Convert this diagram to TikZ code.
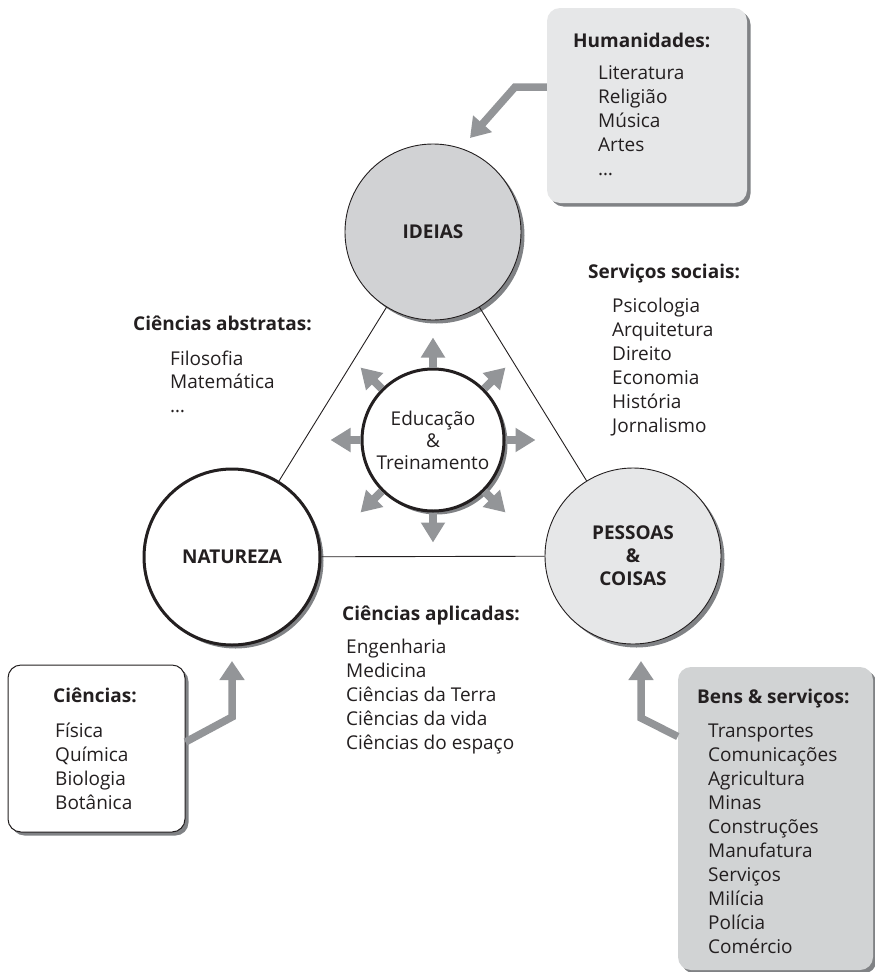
\documentclass[tikz,border=0pt]{standalone}
\usepackage{fontspec}
\setmainfont{Open Sans}
\usetikzlibrary{shadows,arrows.meta}

\definecolor{txtblack}{HTML}{231F20}
\definecolor{ideasfill}{HTML}{D1D2D4}
\definecolor{palefill}{HTML}{E6E7E8}
\definecolor{bensfill}{HTML}{D1D3D4}
\definecolor{arrowgray}{HTML}{939598}
\definecolor{shadowgray}{HTML}{808285}

\tikzset{
  sh/.style={drop shadow={shadow xshift=3.5pt,shadow yshift=-3.5pt,fill=shadowgray,opacity=1}},
  bigcirc/.style={circle,draw=txtblack,line width=0.9pt,minimum size=176pt,inner sep=0pt,align=center,
    text=txtblack,font=\fontsize{19}{23}\selectfont\bfseries,sh},
  head/.style={anchor=base west,inner sep=0pt,text=txtblack,font=\fontsize{19}{24}\selectfont\bfseries},
  item/.style={anchor=base west,inner sep=0pt,text=txtblack,font=\fontsize{19}{24}\selectfont},
  infobox/.style={rectangle,rounded corners=13pt,inner sep=0pt,sh},
  fatarrow/.style={draw=arrowgray,line width=7.5pt,line join=miter,-{Triangle[width=24pt,length=19pt]}}
}

\begin{document}
\begin{tikzpicture}[x=1pt,y=-1pt]
    \useasboundingbox (0,0) rectangle (875,972);

    % boxes
    \node[infobox,fill=palefill,minimum width=200pt,minimum height=195pt] (humbox) at (647,105.5) {};
    \node[infobox,fill=white,draw=txtblack,line width=1pt,minimum width=177pt,minimum height=167pt] (scibox) at (96.5,748.5) {};
    \node[infobox,fill=bensfill,minimum width=195pt,minimum height=303pt] (bensbox) at (775.5,818.5) {};

    % the three big circles and the centre
    \node[bigcirc,fill=ideasfill] (ideias) at (433,232) {IDEIAS};
    \node[bigcirc,fill=white,line width=3pt] (natureza) at (232,557) {NATUREZA};
    \node[bigcirc,fill=palefill] (pessoas) at (633,556) {PESSOAS\\\&\\COISAS};
    \node[circle,draw=txtblack,line width=3pt,fill=white,minimum size=142pt,inner sep=0pt,align=center,
        text=txtblack,font=\fontsize{19}{22}\selectfont,sh] (edu) at (433,440) {Educação\\\&\\Treinamento};

    \draw[line width=0.9pt,txtblack] (ideias) -- (natureza) (ideias) -- (pessoas) (natureza) -- (pessoas);

    \foreach \a in {0,45,...,315} {
        \draw[fatarrow,line width=8pt,-{Triangle[width=23pt,length=20pt]}] (edu.\a) -- ([shift={(\a:30pt)}]edu.\a);
    }

    % feeding arrows
    \coordinate (humtip) at (470,138);
    \coordinate (scitip) at (232,661);
    \coordinate (benstip) at (641,661);
    \draw[fatarrow] ([yshift=18.5pt]humbox.west) -- (515,87) -- (humtip);
    \draw[fatarrow] ([yshift=6.5pt]scibox.east) -- (232,717) -- (scitip);
    \draw[fatarrow] ([yshift=82pt]bensbox.west) -- (641,718) -- (benstip);

    % texts
    \node[head] (humhead) at (573,47) {Humanidades:};
    \foreach \t [count=\i from 0] in {Literatura,Religião,Música,Artes,…}
        \node[item] (hum\i) at (598,79+24*\i) {\t};

    \node[head] (sochead) at (588,278) {Serviços sociais:};
    \foreach \t [count=\i from 0] in {Psicologia,Arquitetura,Direito,Economia,História,Jornalismo}
        \node[item] (soc\i) at (612,312+24*\i) {\t};

    \node[head] (abshead) at (133,330) {Ciências abstratas:};
    \foreach \t [count=\i from 0] in {Filosofia,Matemática,…}
        \node[item] (abs\i) at (170,365+23.5*\i) {\t};

    \node[head] (aplhead) at (342,620) {Ciências aplicadas:};
    \foreach \t [count=\i from 0] in {Engenharia,Medicina,Ciências da Terra,Ciências da vida,Ciências do espaço}
        \node[item] (apl\i) at (346,653+24*\i) {\t};

    \node[head] (scihead) at (53,702) {Ciências:};
    \foreach \t [count=\i from 0] in {Física,Química,Biologia,Botânica}
        \node[item] (sci\i) at (55,737+24*\i) {\t};

    \node[head] (benshead) at (697,703) {Bens \& serviços:};
    \foreach \t [count=\i from 0] in {Transportes,Comunicações,Agricultura,Minas,Construções,Manufatura,Serviços,Milícia,Polícia,Comércio}
        \node[item] (bens\i) at (708,737+24*\i) {\t};
\end{tikzpicture}
\end{document}
